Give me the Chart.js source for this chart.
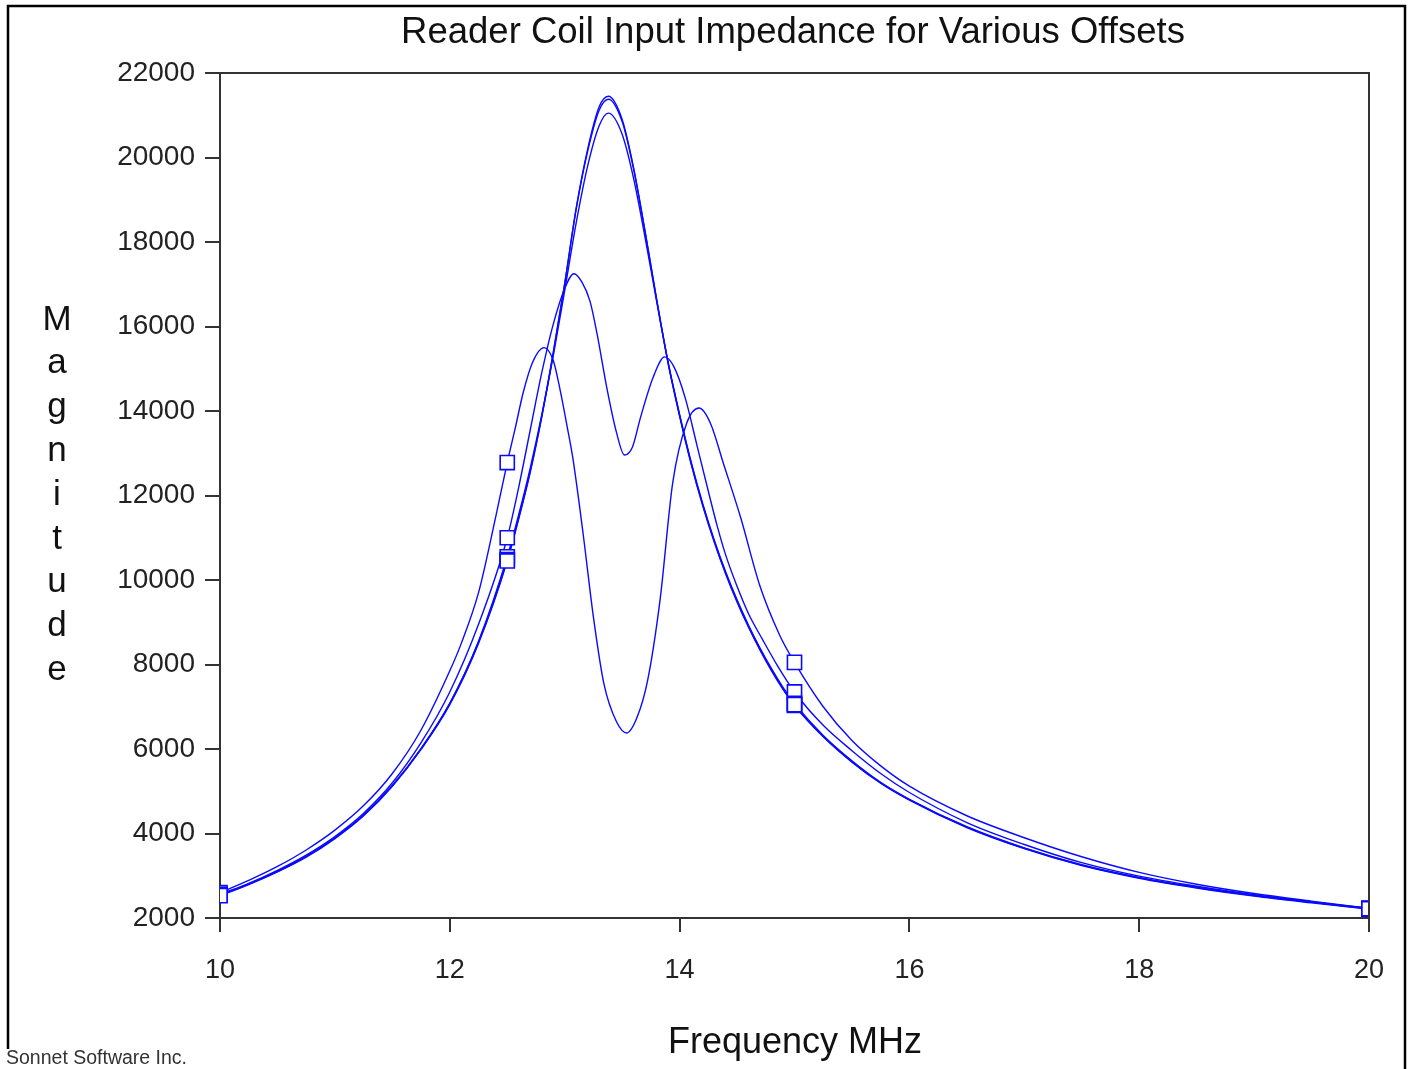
<!DOCTYPE html>
<html>
<head>
<meta charset="utf-8">
<script src="https://cdn.jsdelivr.net/npm/chart.js@4/dist/chart.umd.min.js"></script>
<style>
  body { margin: 0; background: #fff; }
</style>
</head>
<body>
<canvas id="myChart" width="1412" height="1069"></canvas>
<script>
// frequency grids (MHz) and magnitudes
const freqA = [10, 10.25, 10.5, 10.75, 11, 11.25, 11.5, 11.75, 12, 12.25, 12.5, 12.6, 12.7, 12.8, 12.9,
  13.0, 13.1, 13.2, 13.3, 13.38, 13.5, 13.6, 13.7, 13.8, 13.9, 14.0, 14.1, 14.2, 14.3, 14.4, 14.5, 14.6,
  14.7, 14.8, 14.9, 15, 15.25, 15.5, 15.75, 16, 16.5, 17, 17.5, 18, 18.5, 19, 19.5, 20];
const magA1 = [2530, 2790, 3090, 3440, 3880, 4420, 5120, 5990, 7050, 8500, 10450, 11450, 12550, 13850, 15350,
  17000, 18800, 20200, 21200, 21450, 20900, 19750, 18250, 16650, 15150, 13900, 12770, 11790, 10930, 10170, 9500, 8900,
  8360, 7870, 7430, 7050, 6300, 5700, 5200, 4800, 4150, 3650, 3250, 2950, 2720, 2530, 2370, 2220];
const magA2 = [2550, 2810, 3110, 3460, 3900, 4440, 5140, 6010, 7080, 8530, 10480, 11480, 12580, 13880, 15380,
  17020, 18780, 20150, 21120, 21380, 20850, 19720, 18230, 16630, 15130, 13880, 12750, 11770, 10910, 10150, 9480, 8880,
  8340, 7850, 7410, 7030, 6290, 5690, 5190, 4790, 4140, 3640, 3240, 2940, 2710, 2520, 2360, 2210];
const magB = [2540, 2800, 3100, 3450, 3890, 4430, 5130, 6010, 7080, 8550, 10550, 11550, 12650, 13900, 15300,
  16850, 18450, 19800, 20750, 21050, 20550, 19500, 18100, 16600, 15150, 13920, 12800, 11820, 10960, 10200, 9530, 8930,
  8390, 7900, 7460, 7080, 6320, 5720, 5210, 4810, 4160, 3660, 3260, 2960, 2730, 2540, 2380, 2230];

const freqC = [10, 10.25, 10.5, 10.75, 11, 11.25, 11.5, 11.75, 12, 12.25, 12.5, 12.6, 12.7, 12.8, 12.9, 13.0,
  13.08, 13.15, 13.22, 13.28, 13.37, 13.45, 13.52, 13.59, 13.66, 13.77, 13.87, 13.95, 14.05, 14.15, 14.25, 14.33,
  14.4, 14.5, 14.6, 14.72, 14.85, 15, 15.25, 15.5, 15.75, 16, 16.5, 17, 17.5, 18, 18.5, 19, 19.5, 20];
const magC = [2560, 2820, 3130, 3490, 3930, 4480, 5200, 6150, 7350, 8950, 11000, 12200, 13550, 14900, 16050, 16900,
  17250, 17050, 16600, 15850, 14500, 13500, 12960, 13150, 13850, 14800, 15280, 15050, 14300, 13200, 12100, 11250,
  10600, 9850, 9200, 8600, 7980, 7350, 6560, 5960, 5420, 4970, 4260, 3740, 3310, 2990, 2750, 2550, 2380, 2220];

const freqD = [10, 10.25, 10.5, 10.75, 11, 11.25, 11.5, 11.75, 12, 12.1, 12.25, 12.4, 12.5, 12.57, 12.64, 12.72,
  12.82, 12.9, 12.96, 13.02, 13.07, 13.16, 13.25, 13.34, 13.45, 13.54, 13.63, 13.72, 13.83, 13.94, 14.06, 14.17,
  14.27, 14.38, 14.53, 14.7, 14.87, 15, 15.25, 15.5, 15.75, 16, 16.5, 17, 17.5, 18, 18.5, 19, 19.5, 20];
const magD = [2600, 2890, 3220, 3610, 4080, 4660, 5420, 6450, 7850, 8500, 9700, 11500, 12780, 13600, 14450, 15150,
  15500, 15200, 14500, 13650, 12900, 11100, 9120, 7560, 6650, 6380, 6750, 7600, 9530, 12300, 13700, 14070,
  13700, 12770, 11490, 9850, 8700, 8050, 7000, 6200, 5600, 5120, 4420, 3900, 3450, 3080, 2800, 2580, 2400, 2230];

const markerFreqs = [10, 12.5, 15, 20];
const xTicks = [10, 12, 14, 16, 18, 20];
const yTicks = [2000, 4000, 6000, 8000, 10000, 12000, 14000, 16000, 18000, 20000, 22000];

const titleText = 'Reader Coil Input Impedance for Various Offsets';
const xTitle = 'Frequency MHz';
const yTitle = 'Magnitude';
const footerText = 'Sonnet Software Inc.';

const FONT = '"Liberation Sans", Arial, sans-serif';
const BLUE = '#0a0aff';

const curves = [
  [freqA, magA1], [freqA, magA2], [freqA, magB], [freqC, magC], [freqD, magD]
];

function toPoints(f, m) {
  return f.map((x, i) => ({ x: x, y: m[i] }));
}

const datasets = [];
curves.forEach(function (c) {
  const pts = toPoints(c[0], c[1]);
  datasets.push({
    type: 'line',
    data: pts,
    borderColor: BLUE,
    borderWidth: 1.4,
    pointRadius: 0,
    cubicInterpolationMode: 'monotone',
    fill: false,
    order: 1
  });
  // square markers only at a few frequencies, drawn over all lines
  datasets.push({
    type: 'scatter',
    data: pts.filter(p => markerFreqs.includes(p.x)),
    pointStyle: 'rect',
    pointRadius: 10,
    pointBorderWidth: 1.6,
    pointBorderColor: BLUE,
    pointBackgroundColor: '#fff',
    order: 0
  });
});

const decor = {
  id: 'decor',
  beforeDraw(chart) {
    const ctx = chart.ctx;
    ctx.save();
    ctx.fillStyle = '#fff';
    ctx.fillRect(0, 0, chart.width, chart.height);
    ctx.restore();
  },
  afterDraw(chart) {
    const ctx = chart.ctx, a = chart.chartArea;
    ctx.save();
    // top and right of plot frame
    ctx.strokeStyle = '#333';
    ctx.lineWidth = 2;
    ctx.beginPath();
    ctx.moveTo(a.left, a.top);
    ctx.lineTo(a.right, a.top);
    ctx.lineTo(a.right, a.bottom);
    ctx.stroke();

    // outer border
    ctx.strokeStyle = '#000';
    ctx.lineWidth = 2.5;
    ctx.beginPath();
    ctx.moveTo(8, 1069);
    ctx.lineTo(8, 6);
    ctx.lineTo(1405, 6);
    ctx.lineTo(1405, 1069);
    ctx.stroke();

    ctx.fillStyle = '#111';
    ctx.textBaseline = 'middle';
    ctx.textAlign = 'center';
    ctx.font = '36.5px ' + FONT;
    ctx.fillText(titleText, 793, 33);
    ctx.font = '36px ' + FONT;
    ctx.fillText(xTitle, 795, 1043);

    // stacked y title
    ctx.font = '35px ' + FONT;
    yTitle.split('').forEach(function (ch, i) {
      ctx.fillText(ch, 57, 320 + i * 43.8);
    });

    // footer
    ctx.fillStyle = '#fff';
    ctx.fillRect(0, 1049, 200, 20);
    ctx.fillStyle = '#333';
    ctx.textAlign = 'left';
    ctx.font = '19.5px ' + FONT;
    ctx.fillText(footerText, 6, 1059);
    ctx.restore();
  }
};

const ctx = document.getElementById('myChart').getContext('2d');
const myChart = new Chart(ctx, {
  data: { datasets: datasets },
  options: {
    responsive: false,
    animation: false,
    devicePixelRatio: 1,
    layout: { padding: { top: 73, right: 43, left: 0, bottom: 0 } },
    plugins: { legend: { display: false }, tooltip: { enabled: false }, title: { display: false } },
    scales: {
      x: {
        type: 'linear',
        min: 10, max: 20,
        afterFit(scale) { scale.height = 151; },
        afterBuildTicks(scale) { scale.ticks = xTicks.map(v => ({ value: v })); },
        grid: { drawOnChartArea: false, drawTicks: true, tickLength: 14, color: '#333', lineWidth: 2 },
        border: { display: true, color: '#333', width: 2 },
        ticks: { color: '#222', padding: 22, font: { family: FONT, size: 27 }, maxRotation: 0,
          callback: v => String(v) }
      },
      y: {
        type: 'linear',
        min: 2000, max: 22000,
        afterFit(scale) { scale.width = 220; },
        afterBuildTicks(scale) { scale.ticks = yTicks.map(v => ({ value: v })); },
        grid: { drawOnChartArea: false, drawTicks: true, tickLength: 15, color: '#333', lineWidth: 2 },
        border: { display: true, color: '#333', width: 2 },
        ticks: { color: '#222', padding: 10, font: { family: FONT, size: 28 },
          callback: v => String(v) }
      }
    }
  },
  plugins: [decor]
});
</script>
</body>
</html>
